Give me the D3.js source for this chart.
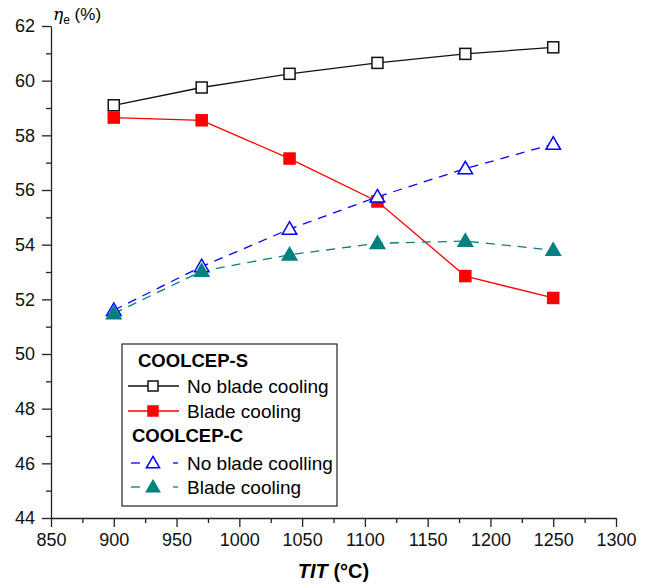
<!DOCTYPE html>
<html>
<head>
<meta charset="utf-8">
<script src="https://cdn.jsdelivr.net/npm/d3@7"></script>
<style>
  body { margin: 0; background: #fff; }
  text { font-family: "Liberation Sans", Arial, sans-serif; }
</style>
</head>
<body>
<svg id="chart" width="651" height="585"></svg>
<script>
// TIT values (°C)
const tit = [900, 970, 1040, 1110, 1180, 1250];

// efficiency (%) for each case
const sNoCooling = [59.1, 59.75, 60.25, 60.65, 60.98, 61.22];
const sCooling = [58.65, 58.55, 57.15, 55.58, 52.85, 52.05];
const cNoCooling = [51.6, 53.2, 54.57, 55.75, 56.78, 57.68];
const cCooling = [51.48, 53.03, 53.63, 54.05, 54.13, 53.8];

const xTicks = [850, 900, 950, 1000, 1050, 1100, 1150, 1200, 1250, 1300];
const yTicks = [44, 46, 48, 50, 52, 54, 56, 58, 60, 62];

const svg = d3.select("#chart");
const margin = { left: 51, right: 35, top: 26, bottom: 67 };
const width = 651 - margin.left - margin.right;
const height = 585 - margin.top - margin.bottom;

const x = d3.scaleLinear().domain([850, 1300]).range([0, width]);
const y = d3.scaleLinear().domain([44, 62]).range([height, 0]);

const chart = svg.append("g")
  .attr("transform", `translate(${margin.left},${margin.top})`);

// minor ticks first, then major axes on top
chart.append("g")
  .attr("transform", `translate(0,${height})`)
  .call(d3.axisBottom(x).tickValues(d3.range(875, 1300, 50)).tickSize(5).tickFormat(""))
  .call(g => g.select(".domain").remove());
chart.append("g")
  .call(d3.axisLeft(y).tickValues(d3.range(45, 62, 2)).tickSize(5).tickFormat(""))
  .call(g => g.select(".domain").remove());

chart.append("g")
  .attr("transform", `translate(0,${height})`)
  .call(d3.axisBottom(x).tickValues(xTicks).tickFormat(d3.format("d"))
    .tickSize(9).tickSizeOuter(0).tickPadding(6));
chart.append("g")
  .call(d3.axisLeft(y).tickValues(yTicks).tickFormat(d3.format("d"))
    .tickSize(9).tickSizeOuter(0).tickPadding(7));

chart.selectAll(".tick line, .domain").attr("stroke", "#222").attr("stroke-width", 1.3);
chart.selectAll(".tick text")
  .attr("fill", "#111")
  .style("font-size", "18px")
  .style("font-family", "Liberation Sans, Arial, sans-serif");

// axis titles
const xt = svg.append("text")
  .attr("x", margin.left + x(1075))
  .attr("y", 578)
  .attr("text-anchor", "middle")
  .attr("font-size", 20)
  .attr("font-weight", "bold");
xt.append("tspan").attr("font-style", "italic").text("TIT");
xt.append("tspan").text(" (°C)");

const yt = svg.append("text")
  .attr("x", 53)
  .attr("y", 20)
  .attr("font-size", 17);
yt.append("tspan").attr("font-style", "italic").attr("font-family", "DejaVu Serif, serif").text("η");
yt.append("tspan").attr("font-size", 12).attr("dy", 4).text("e");
yt.append("tspan").attr("dy", -4).text(" (%)");

const series = [
  { values: sNoCooling, color: "#111", dash: null, marker: "square", fill: "#fff" },
  { values: sCooling, color: "#ff0000", dash: null, marker: "square", fill: "#ff0000" },
  { values: cNoCooling, color: "#0000ff", dash: "9,7", marker: "triangle", fill: "#fff" },
  { values: cCooling, color: "#008080", dash: "9,7", marker: "triangle", fill: "#008080" },
];

const line = d3.line()
  .x((d, i) => x(tit[i]))
  .y(d => y(d));

function drawMarker(g, s, cx, cy, size = 11) {
  if (s.marker === "square") {
    g.append("rect")
      .attr("x", cx - size / 2).attr("y", cy - size / 2)
      .attr("width", size).attr("height", size)
      .attr("fill", s.fill)
      .attr("stroke", s.color)
      .attr("stroke-width", 1.5);
  } else {
    g.append("path")
      .attr("d", d3.symbol(d3.symbolTriangle, size * size * 0.75)())
      .attr("transform", `translate(${cx},${cy + 1})`)
      .attr("fill", s.fill)
      .attr("stroke", s.color)
      .attr("stroke-width", 1.5);
  }
}

for (const s of series) {
  chart.append("path")
    .datum(s.values)
    .attr("d", line)
    .attr("fill", "none")
    .attr("stroke", s.color)
    .attr("stroke-width", 1.3)
    .attr("stroke-dasharray", s.dash);
}
for (const s of series) {
  const g = chart.append("g");
  s.values.forEach((v, i) => drawMarker(g, s, x(tit[i]), y(v)));
}

// legend
const legend = svg.append("g").attr("transform", "translate(122,344)");
legend.append("rect")
  .attr("width", 215).attr("height", 162)
  .attr("fill", "#fff").attr("stroke", "#222").attr("stroke-width", 1.2);

const legendItems = [
  { type: "head", label: "COOLCEP-S", y: 23, x: 16 },
  { type: "item", s: series[0], label: "No blade cooling", y: 42 },
  { type: "item", s: series[1], label: "Blade cooling", y: 67 },
  { type: "head", label: "COOLCEP-C", y: 98, x: 10 },
  { type: "item", s: series[2], label: "No blade coolling", y: 119 },
  { type: "item", s: series[3], label: "Blade cooling", y: 143 },
];

for (const it of legendItems) {
  if (it.type === "head") {
    legend.append("text")
      .attr("x", it.x).attr("y", it.y)
      .attr("font-size", 18.5).attr("font-weight", "bold")
      .text(it.label);
    continue;
  }
  const lg = legend.append("g");
  if (it.s.dash) {
    lg.append("line").attr("x1", 9).attr("x2", 18).attr("y1", it.y).attr("y2", it.y)
      .attr("stroke", it.s.color).attr("stroke-width", 1.3);
    lg.append("line").attr("x1", 51).attr("x2", 56).attr("y1", it.y).attr("y2", it.y)
      .attr("stroke", it.s.color).attr("stroke-width", 1.3);
  } else {
    lg.append("line").attr("x1", 6).attr("x2", 57).attr("y1", it.y).attr("y2", it.y)
      .attr("stroke", it.s.color).attr("stroke-width", 1.3);
  }
  drawMarker(lg, it.s, 31, it.y, 10);
  legend.append("text")
    .attr("x", 65).attr("y", it.y + 7)
    .attr("font-size", 19)
    .text(it.label);
}
</script>
</body>
</html>
